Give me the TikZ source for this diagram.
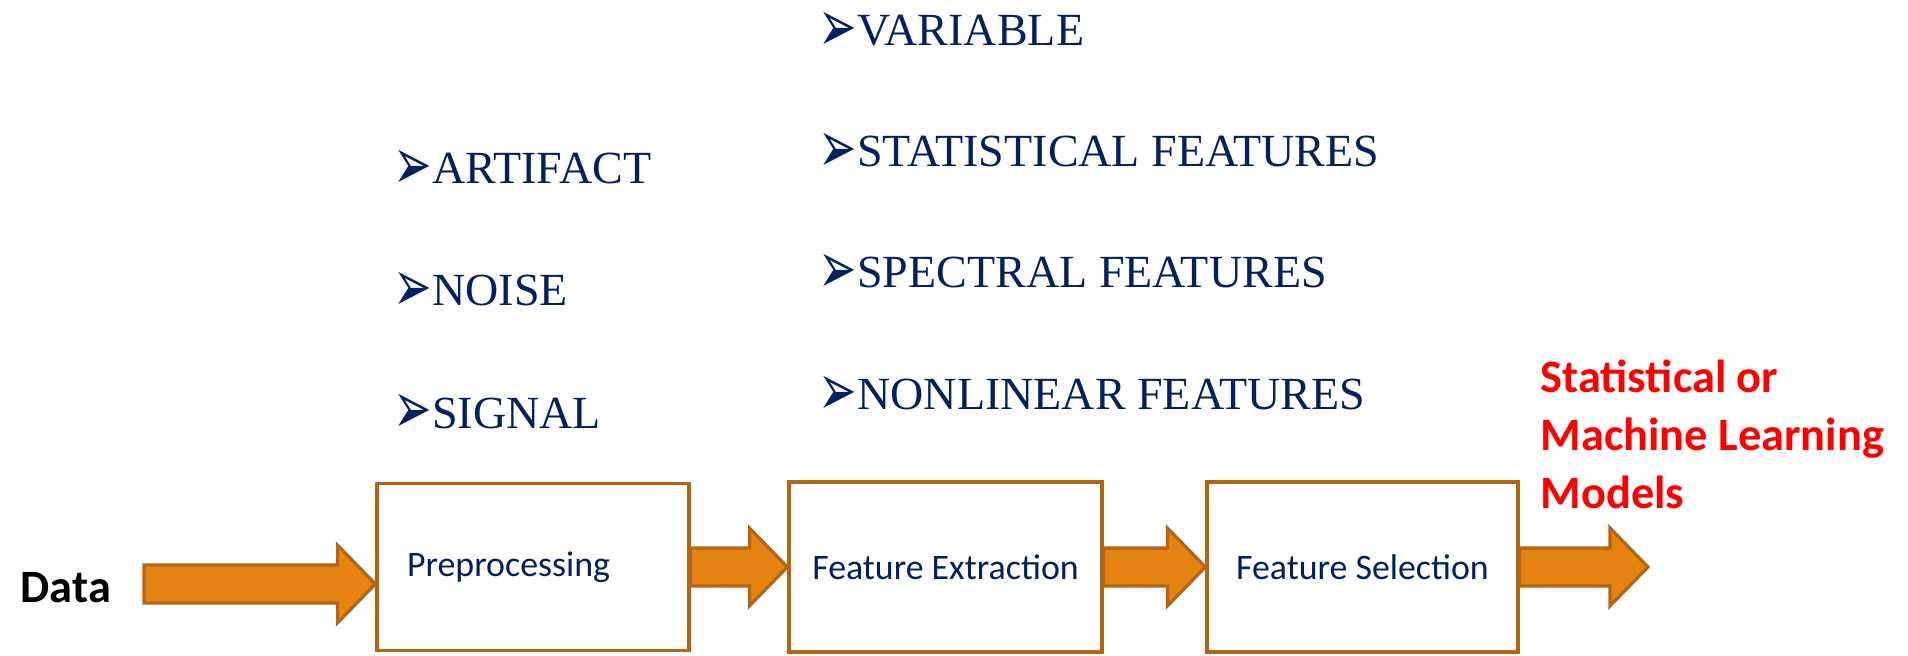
\documentclass[tikz,border=0pt]{standalone}
\usepackage{fontspec}
\setmainfont{Liberation Serif}
\newfontfamily\calibri{Carlito}
\newfontfamily\dingfont{DejaVu Sans}
\usetikzlibrary{calc}
\definecolor{navy}{RGB}{0,32,96}
\definecolor{pptorange}{RGB}{228,130,18}
\definecolor{pptbrown}{RGB}{178,102,20}
\definecolor{pptred}{RGB}{255,0,0}

\tikzset{
  stagebox/.style={draw=pptbrown, line width=0.9pt, fill=white, text=navy,
    font=\calibri\fontsize{10.2}{12}\selectfont, inner sep=0pt},
  fatarrow/.style={draw=pptbrown, line width=0.9pt, fill=pptorange, line join=miter},
  listitem/.style={anchor=base west, inner sep=0pt, text=navy,
    font=\fontsize{13.1}{15}\selectfont},
}
\newcommand{\listbullet}{\raisebox{-0.12em}{\scalebox{1}[1.6]{\dingfont\fontsize{13.1}{15}\selectfont ➢}}}
\newcommand{\blockarrow}[2]{%
  \draw[fatarrow] ($(#1)+(0,0.19)$) -- ($(#2)+(-0.38,0.19)$) -- ($(#2)+(-0.38,0.39)$)
    -- (#2) -- ($(#2)+(-0.38,-0.39)$) -- ($(#2)+(-0.38,-0.19)$) -- ($(#1)+(0,-0.19)$) -- cycle;}

\begin{document}
\begin{tikzpicture}
\useasboundingbox (0,0) rectangle (19.08,6.55);
% stages
\node[stagebox, minimum width=3.12cm, minimum height=1.67cm, text width=2.52cm, align=left] (pre) at (5.33,0.88) {Preprocessing};
\node[stagebox, minimum width=3.13cm, minimum height=1.70cm] (ext) at (9.455,0.88) {Feature Extraction};
\node[stagebox, minimum width=3.11cm, minimum height=1.70cm] (sel) at (13.625,0.88) {Feature Selection};
\node[anchor=base west, inner sep=0pt, font=\calibri\bfseries\fontsize{13.2}{16}\selectfont] (data) at (0.20,0.53) {Data};
\node[anchor=base west, inner sep=0pt, align=left, text=pptred,
  font=\calibri\bfseries\fontsize{13.2}{16.4}\selectfont] (models) at (15.40,1.47) {Statistical or\\Machine Learning\\Models};
% arrows
\coordinate (datain) at (1.44,0.71);
\coordinate (mlout) at (16.48,0.88);
\blockarrow{datain}{pre.west |- datain}
\blockarrow{pre.east}{ext.west}
\blockarrow{ext.east}{sel.west}
\blockarrow{sel.east}{mlout}
% preprocessing targets
\node[listitem] (artifact) at (3.93,4.71) {\listbullet ARTIFACT};
\node[listitem] (noise) at (3.93,3.49) {\listbullet NOISE};
\node[listitem] (signal) at (3.93,2.27) {\listbullet SIGNAL};
% extracted features
\node[listitem] (variable) at (8.18,6.09) {\listbullet VARIABLE};
\node[listitem] (statfeat) at (8.18,4.88) {\listbullet STATISTICAL FEATURES};
\node[listitem] (specfeat) at (8.18,3.67) {\listbullet SPECTRAL FEATURES};
\node[listitem] (nonlinfeat) at (8.18,2.45) {\listbullet NONLINEAR FEATURES};
\end{tikzpicture}
\end{document}
